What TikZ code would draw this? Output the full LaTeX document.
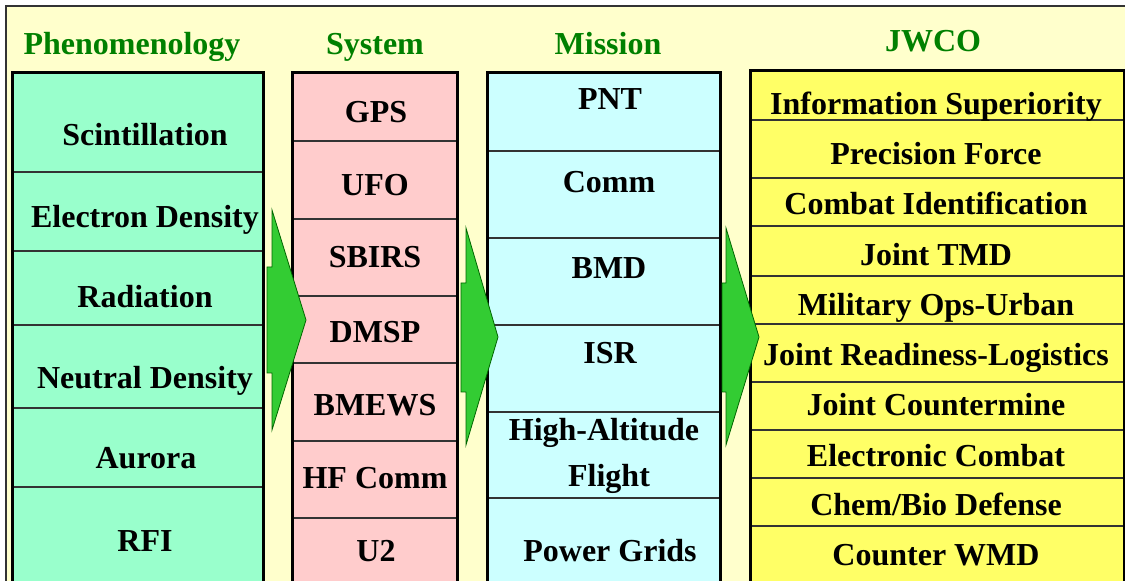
\documentclass[tikz,border=0pt]{standalone}
\usepackage{fontspec}
\setmainfont{Liberation Serif}
\definecolor{bgyellow}{HTML}{FFFFCC}
\definecolor{phenfill}{HTML}{99FFCC}
\definecolor{sysfill}{HTML}{FFCCCC}
\definecolor{misfill}{HTML}{CCFFFF}
\definecolor{jwfill}{HTML}{FFFF66}
\definecolor{headgreen}{HTML}{008000}
\definecolor{arrowgreen}{HTML}{33CC33}
\definecolor{arrowedge}{HTML}{006600}
\begin{document}
\begin{tikzpicture}[x=0.5pt,y=-0.5pt,
    every node/.style={font=\bfseries\fontsize{16}{19}\selectfont,anchor=base,inner sep=0pt},
    head/.style={text=headgreen},
    colbox/.style={line width=1.5pt},
    divider/.style={line width=0.6pt,draw=black!80},
    chevron/.style={fill=arrowgreen,draw=arrowedge,line width=0.4pt}]
    \useasboundingbox (0,0) rectangle (1125,581);
    \clip (0,0) rectangle (1125,581);
    \fill[white] (0,0) rectangle (1125,581);
    \draw[fill=bgyellow,draw=black!80,line width=0.75pt] (6,6) rectangle (1140,600);
    % headers
    \node[head] (hphen) at (132,55) {Phenomenology};
    \node[head] (hsys) at (375,55) {System};
    \node[head] (hmis) at (608,55) {Mission};
    \node[head] (hjw) at (933,52) {JWCO};
    % phenomenology
    \fill[phenfill] (12,73) rectangle (263,600);
    \foreach \y in {172,251,325,408,487}
        \draw[divider] (12,\y) -- (263,\y);
    \draw[colbox] (12,600) -- (12,73) -- (263,73) -- (263,600);
    \node (phen1) at (145,146) {Scintillation};
    \node (phen2) at (145,228) {Electron Density};
    \node (phen3) at (145,308) {Radiation};
    \node (phen4) at (145,389) {Neutral Density};
    \node (phen5) at (146,469) {Aurora};
    \node (phen6) at (145,552) {RFI};
    % system
    \fill[sysfill] (292,73) rectangle (457,600);
    \foreach \y in {141,219,296,363,441,518}
        \draw[divider] (292,\y) -- (457,\y);
    \draw[colbox] (292,600) -- (292,73) -- (457,73) -- (457,600);
    \node (sys1) at (376,123) {GPS};
    \node (sys2) at (375,196) {UFO};
    \node (sys3) at (375,268) {SBIRS};
    \node (sys4) at (375,343) {DMSP};
    \node (sys5) at (375,416) {BMEWS};
    \node (sys6) at (375,489) {HF Comm};
    \node (sys7) at (376,562) {U2};
    % mission
    \fill[misfill] (487,73) rectangle (720,600);
    \foreach \y in {151,238,325,412,498}
        \draw[divider] (487,\y) -- (720,\y);
    \draw[colbox] (487,600) -- (487,73) -- (720,73) -- (720,600);
    \node (mis1) at (610,110) {PNT};
    \node (mis2) at (609,193) {Comm};
    \node (mis3) at (609,279) {BMD};
    \node (mis4) at (610,364) {ISR};
    \node (mis5) at (604,441) {High-Altitude};
    \node (mis6) at (609,487) {Flight};
    \node (mis7) at (610,562) {Power Grids};
    % jwco
    \fill[jwfill] (750,71) rectangle (1124,600);
    \foreach \y in {120,178,226,276,324,382,430,478,526}
        \draw[divider] (750,\y) -- (1124,\y);
    \draw[colbox] (750,600) -- (750,71) -- (1124,71) -- (1124,600);
    \node (jw1) at (936,115) {Information Superiority};
    \node (jw2) at (936,165) {Precision Force};
    \node (jw3) at (936,215) {Combat Identification};
    \node (jw4) at (936,266) {Joint TMD};
    \node (jw5) at (936,316) {Military Ops-Urban};
    \node (jw6) at (936,366) {Joint Readiness-Logistics};
    \node (jw7) at (936,416) {Joint Countermine};
    \node (jw8) at (936,467) {Electronic Combat};
    \node (jw9) at (936,516) {Chem/Bio Defense};
    \node (jw10) at (936,566) {Counter WMD};
    % arrows
    \draw[chevron] (272,210) -- (306,320) -- (272,430) -- (272,373) -- (267,373) -- (267,267) -- (272,267) -- cycle;
    \draw[chevron] (466,228) -- (498,337) -- (466,445) -- (466,392) -- (461,392) -- (461,283) -- (466,283) -- cycle;
    \draw[chevron] (726,228) -- (759,337) -- (726,445) -- (726,392) -- (722,392) -- (722,283) -- (726,283) -- cycle;
\end{tikzpicture}
\end{document}
